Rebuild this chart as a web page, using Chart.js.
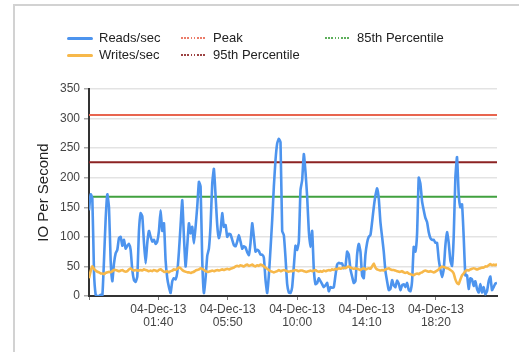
<!DOCTYPE html>
<html>
<head>
<meta charset="utf-8">
<script src="https://cdn.jsdelivr.net/npm/chart.js@4.4.1/dist/chart.umd.min.js"></script>
<style>
  body { margin: 0; background: #fff; font-family: "Liberation Sans", Arial, sans-serif; }
  #wrap { position: relative; width: 519px; height: 352px; overflow: hidden; }
  #frame { position: absolute; left: 13px; top: 4px; width: 520px; height: 360px; border-top: 2px solid #d2d2d2; border-left: 2px solid #d2d2d2; }
  #chart { position: absolute; left: 0; top: 0; }
  .item { position: absolute; white-space: nowrap; height: 16px; line-height: 16px; font-size: 13px; color: #222; }
  .swatch { position: absolute; left: 0; width: 26px; }
  .label { position: absolute; left: 32px; top: 0; }
</style>
</head>
<body>
<div id="wrap">
  <div id="frame"></div>
  <canvas id="chart" width="519" height="352"></canvas>
  <div id="legend"></div>
</div>
<script>
document.addEventListener('DOMContentLoaded', () => {
    // Samples are 6 minutes apart, starting 03-Dec-13 21:30
    const sampleStep = 6;

    const readsPerSec = [
        145, 172, 165, 40, 2, 0, 0, 2, 0, 60,
        130, 172, 150, 60, 25, 55, 72, 78, 98, 100,
        85, 95, 80, 85, 88, 78, 44, 27, 24, 33,
        110, 140, 135, 90, 55, 90, 110, 100, 92, 95,
        88, 92, 110, 145, 110, 123, 60, 30, 15, 5,
        25, 30, 28, 40, 75, 120, 162, 100, 50, 85,
        123, 106, 117, 89, 117, 151, 193, 185, 60, 5,
        30, 68, 80, 120, 190, 215, 170, 120, 98, 110,
        140, 117, 120, 100, 105, 104, 95, 86, 84, 92,
        103, 92, 80, 84, 82, 74, 69, 90, 123, 100,
        75, 78, 76, 70, 70, 65, 27, 5, 35, 80,
        128, 185, 230, 258, 266, 260, 110, 103, 65, 20,
        6, 5, 15, 50, 85, 78, 92, 179, 196, 240,
        210, 168, 110, 83, 110, 45, 20, 22, 30, 25,
        20, 15, 18, 22, 8, 15, 14, 15, 35, 53,
        56, 55, 55, 47, 50, 75, 70, 45, 33, 22,
        25, 70, 88, 75, 35, 30, 70, 90, 100, 103,
        125, 150, 170, 182, 165, 125, 100, 75, 42, 25,
        10, 12, 27, 18, 15, 26, 21, 10, 18, 20,
        15, 22, 10, 8, 25, 83, 75, 105, 200, 190,
        160, 145, 132, 125, 108, 98, 95, 95, 90, 90,
        62, 45, 32, 45, 85, 108, 90, 60, 51, 100,
        200, 235, 172, 150, 155, 100, 35, 35, 12, 30,
        28, 17, 25, 12, 6, 20, 6, 15, 3, 8,
        25, 33, 10, 15, 21, 22
    ];

    const writesPerSec = [
        30, 42, 50, 46, 43, 41, 40, 38, 38, 37,
        39, 40, 41, 40, 42, 44, 44, 43, 42, 43,
        44, 42, 41, 42, 45, 47, 44, 43, 44, 43,
        43, 44, 43, 45, 44, 43, 42, 43, 42, 44,
        43, 42, 44, 45, 43, 41, 41, 42, 40, 42,
        43, 45, 44, 46, 48, 47, 44, 42, 41, 40,
        40, 39, 40, 41, 43, 44, 45, 47, 46, 44,
        42, 41, 41, 42, 43, 42, 43, 44, 43, 44,
        45, 44, 45, 46, 45, 46, 47, 48, 50, 51,
        50, 52, 51, 50, 52, 53, 51, 52, 53, 51,
        50, 52, 51, 53, 52, 50, 48, 46, 44, 42,
        41, 40, 41, 42, 44, 42, 43, 44, 43, 42,
        41, 42, 42, 43, 44, 43, 42, 43, 43, 42,
        41, 41, 42, 43, 42, 43, 44, 42, 41, 42,
        41, 43, 42, 43, 44, 43, 45, 44, 46, 45,
        47, 46, 47, 48, 47, 49, 50, 48, 47, 46,
        47, 46, 45, 44, 46, 47, 45, 46, 47, 46,
        50, 55, 48, 45, 44, 43, 44, 43, 45, 46,
        47, 45, 44, 44, 43, 42, 41, 41, 42, 40,
        39, 40, 38, 37, 36, 35, 37, 38, 37, 39,
        40, 42, 43, 42, 41, 42, 41, 40, 41, 43,
        45, 48, 50, 49, 48, 47, 46, 44, 42, 38,
        28, 22, 20, 28, 35, 38, 42, 44, 43, 45,
        46, 47, 46, 45, 46, 47, 48, 48, 50, 50,
        52, 54, 52, 53, 52, 54
    ];

    // Reference levels
    const peakIO = 306;
    const pct95IO = 226;
    const pct85IO = 168;

    // X axis ticks (minutes from start) and their two-line labels
    const tickMinutes = [0, 250, 500, 750, 1000, 1250];
    const tickDates = ['', '04-Dec-13', '04-Dec-13', '04-Dec-13', '04-Dec-13', '04-Dec-13'];
    const tickTimes = ['', '01:40', '05:50', '10:00', '14:10', '18:20'];

    const xMax = (readsPerSec.length - 1) * sampleStep;
    const toPoints = arr => arr.map((v, i) => ({ x: i * sampleStep, y: v }));
    const flatLine = v => [{ x: 0, y: v }, { x: xMax, y: v }];

    Chart.defaults.font.family = '"Liberation Sans", Arial, sans-serif';

    const series = [
        { label: 'Reads/sec', data: toPoints(readsPerSec), borderColor: '#4d94ee', borderWidth: 2.6, order: 1, dotted: false },
        { label: 'Writes/sec', data: toPoints(writesPerSec), borderColor: '#f7b84a', borderWidth: 2.6, order: 0, dotted: false },
        { label: 'Peak', data: flatLine(peakIO), borderColor: '#e8654f', borderWidth: 2, order: 2, dotted: true },
        { label: '95th Percentile', data: flatLine(pct95IO), borderColor: '#8c2323', borderWidth: 2, order: 3, dotted: true },
        { label: '85th Percentile', data: flatLine(pct85IO), borderColor: '#41a13f', borderWidth: 2, order: 4, dotted: true }
    ];

    new Chart(document.getElementById('chart').getContext('2d'), {
        type: 'line',
        data: {
            datasets: series.map(s => ({
                label: s.label,
                data: s.data,
                borderColor: s.borderColor,
                borderWidth: s.borderWidth,
                order: s.order,
                fill: false,
                pointRadius: 0,
                tension: 0.15
            }))
        },
        options: {
            responsive: false,
            animation: false,
            layout: { padding: { top: 89, right: 22, left: 0, bottom: 0 } },
            plugins: { legend: { display: false }, tooltip: { enabled: false } },
            scales: {
                x: {
                    type: 'linear',
                    min: 0,
                    max: xMax,
                    afterBuildTicks: scale => { scale.ticks = tickMinutes.map(v => ({ value: v })); },
                    afterFit: scale => { scale.height = 56; },
                    border: { color: '#333', width: 2 },
                    grid: { drawOnChartArea: false, tickLength: 4, color: '#777' },
                    ticks: {
                        autoSkip: false,
                        maxRotation: 0,
                        padding: 3,
                        color: '#444',
                        font: { size: 12, lineHeight: 1.1 },
                        callback: (value, i) => tickDates[i] ? [tickDates[i], tickTimes[i]] : ''
                    }
                },
                y: {
                    min: 0,
                    max: 350,
                    afterFit: scale => { scale.width = 89; },
                    border: { color: '#333', width: 2 },
                    grid: { color: '#e3e3e3', lineWidth: 1.5, tickLength: 5, tickColor: '#aaa' },
                    ticks: { stepSize: 50, padding: 4, color: '#444', font: { size: 12 } },
                    title: {
                        display: true,
                        text: 'IO Per Second',
                        color: '#222',
                        font: { size: 15 },
                        padding: { top: 35, bottom: 0 }
                    }
                }
            }
        }
    });

    // Legend laid out in a 3-column grid above the plot
    const legendSlots = [[67, 30], [67, 47], [181, 30], [181, 47], [325, 30]];
    const legend = document.getElementById('legend');
    series.forEach((s, i) => {
        const item = document.createElement('div');
        item.className = 'item';
        item.style.left = legendSlots[i][0] + 'px';
        item.style.top = legendSlots[i][1] + 'px';
        const sw = document.createElement('div');
        sw.className = 'swatch';
        if (s.dotted) {
            sw.style.top = '7px';
            sw.style.height = '2px';
            sw.style.background = `repeating-linear-gradient(90deg, ${s.borderColor} 0 1.6px, transparent 1.6px 3.2px)`;
            sw.style.opacity = '0.85';
        } else {
            sw.style.top = '6.5px';
            sw.style.height = '3px';
            sw.style.borderRadius = '1.5px';
            sw.style.background = s.borderColor;
        }
        const txt = document.createElement('span');
        txt.className = 'label';
        txt.textContent = s.label;
        item.appendChild(sw);
        item.appendChild(txt);
        legend.appendChild(item);
    });
});
</script>
</body>
</html>
